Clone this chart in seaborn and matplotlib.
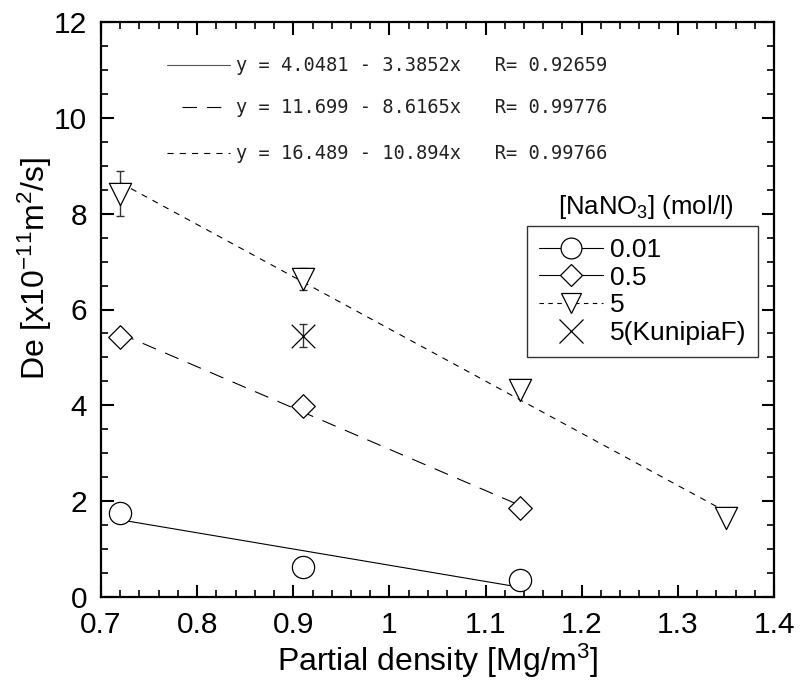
import numpy as np
import pandas as pd
import matplotlib
matplotlib.use("Agg")
import matplotlib.pyplot as plt
from matplotlib.lines import Line2D
from matplotlib.ticker import MultipleLocator
import seaborn as sns

# ---------------- data ----------------
x_001 = [0.72, 0.91, 1.136]
y_001 = [1.76, 0.62, 0.36]

x_05 = [0.72, 0.91, 1.136]
y_05 = [5.42, 3.98, 1.85]

x_5 = [0.72, 0.91, 1.136, 1.35]
y_5 = [8.42, 6.64, 4.32, 1.65]
err_5 = [0.47, 0.23, 0.0, 0.0]

x_kf = [0.91]
y_kf = [5.45]
err_kf = [0.24]

series_labels = ["0.01", "0.5", "5", "5(KunipiaF)"]
fit_intercepts = [4.0481, 11.699, 16.489]
fit_slopes = [-3.3852, -8.6165, -10.894]
fit_texts = ["y = 4.0481 - 3.3852x   R= 0.92659",
             "y = 11.699 - 8.6165x   R= 0.99776",
             "y = 16.489 - 10.894x   R= 0.99766"]

xticks = [0.7, 0.8, 0.9, 1, 1.1, 1.2, 1.3, 1.4]
xtick_labels = ["0.7", "0.8", "0.9", "1", "1.1", "1.2", "1.3", "1.4"]
yticks = [0, 2, 4, 6, 8, 10, 12]

# ---------------- style ----------------
sns.set_theme(style="ticks")
plt.rcParams["font.family"] = ["Liberation Sans", "DejaVu Sans"]
plt.rcParams["mathtext.fontset"] = "custom"
plt.rcParams["mathtext.rm"] = "Liberation Sans"
plt.rcParams["mathtext.it"] = "Liberation Sans"
for k in ["text.color", "axes.labelcolor", "xtick.color", "ytick.color", "axes.edgecolor"]:
    plt.rcParams[k] = "black"

fig = plt.figure(figsize=(8.0, 6.82), dpi=100)
ax = fig.add_axes([101/800, 1 - 597/682, (774-101)/800, (597-22)/682])

lw = 0.8
styles = ["-", (0, (13, 9)), (0, (5.5, 5.5))]
xs_all = [x_001, x_05, x_5]
ys_all = [y_001, y_05, y_5]
markers = ["o", "D", "v"]
msizes = [16, 12, 16]

# fit lines
for i in range(3):
    xs = np.array([min(xs_all[i]), max(xs_all[i])])
    df = pd.DataFrame({"x": xs, "y": fit_intercepts[i] + fit_slopes[i] * xs})
    sns.lineplot(data=df, x="x", y="y", ax=ax, color="black", lw=lw,
                 linestyle=styles[i], legend=False)

# error bars
ax.errorbar(x_5, y_5, yerr=err_5, fmt="none", ecolor="#333333",
            elinewidth=1.0, capsize=3, capthick=1.0, zorder=3)
ax.errorbar(x_kf, y_kf, yerr=err_kf, fmt="none", ecolor="#333333",
            elinewidth=1.0, capsize=3, capthick=1.0, zorder=3)

# markers
for i in range(3):
    df = pd.DataFrame({"x": xs_all[i], "y": ys_all[i]})
    sns.scatterplot(data=df, x="x", y="y", ax=ax, marker=markers[i],
                    s=msizes[i] ** 2, facecolor="white", edgecolor="black",
                    linewidth=0.9, zorder=4, legend=False)
dfk = pd.DataFrame({"x": x_kf, "y": y_kf})
sns.scatterplot(data=dfk, x="x", y="y", ax=ax, marker="x", s=17 ** 2,
                color="black", linewidth=0.9, zorder=4, legend=False)

# axes formatting
ax.set_xlim(0.7, 1.4)
ax.set_ylim(0, 12)
ax.set_xticks(xticks)
ax.set_xticklabels(xtick_labels)
ax.set_yticks(yticks)
ax.xaxis.set_minor_locator(MultipleLocator(0.02))
ax.yaxis.set_minor_locator(MultipleLocator(0.5))
ax.tick_params(which="both", direction="in", top=True, right=True,
               labelsize=21.5, color="black")
ax.tick_params(axis="x", which="major", pad=10)
ax.tick_params(axis="y", which="major", pad=10)
ax.tick_params(which="major", length=9, width=1.5)
ax.tick_params(which="minor", length=5, width=1.2)
for sp in ax.spines.values():
    sp.set_linewidth(1.6)
    sp.set_color("black")
ax.set_xlabel("")
ax.set_ylabel("")
fig.text(437/800, 1 - 661/682, "Partial density [Mg/m$^3$]", fontsize=23,
         ha="center", va="center")
fig.text(35/800, 1 - 268/682, "De [x10$^{-11}$m$^2$/s]", fontsize=23,
         ha="center", va="center", rotation=90)

# fit annotations
ann_y = [0.925, 0.852, 0.772]
for i in range(3):
    yy = ann_y[i]
    x0 = (167 - 101) / 673 if i != 1 else (182 - 101) / 673
    ax.plot([x0, (230 - 101) / 673], [yy, yy], transform=ax.transAxes,
            color="#555555" if i == 0 else "black", lw=lw, linestyle=styles[i])
    ax.text((236 - 101) / 673, yy, fit_texts[i], transform=ax.transAxes,
            ha="left", va="center", fontsize=13.5,
            family=["DejaVu Sans Mono"], color="#222222")

# legend
handles = [
    Line2D([], [], color="black", lw=lw, ls="-", marker="o", markersize=15,
           markerfacecolor="white", markeredgecolor="black", markeredgewidth=0.9),
    Line2D([], [], color="black", lw=lw, ls="-", marker="D", markersize=11,
           markerfacecolor="white", markeredgecolor="black", markeredgewidth=0.9),
    Line2D([], [], color="black", lw=lw, ls=(0, (4, 4)), marker="v", markersize=15,
           markerfacecolor="white", markeredgecolor="black", markeredgewidth=0.9),
    Line2D([], [], color="black", lw=0, marker="x", markersize=17,
           markeredgewidth=0.9),
]
leg = ax.legend(handles, series_labels, loc="upper left",
                bbox_to_anchor=((527 - 101) / 673, (597 - 226) / 575),
                fontsize=19, frameon=True, fancybox=False, edgecolor="black",
                handlelength=2.42, handletextpad=0.27, labelspacing=0.14,
                borderpad=0.45, borderaxespad=0)
leg.get_frame().set_linewidth(1.0)
ax.text((646 - 101) / 673, (597 - 207) / 575, "[NaNO$_3$] (mol/l)",
        transform=ax.transAxes, ha="center", va="center", fontsize=18.5)

fig.savefig("out.png", dpi=100)
